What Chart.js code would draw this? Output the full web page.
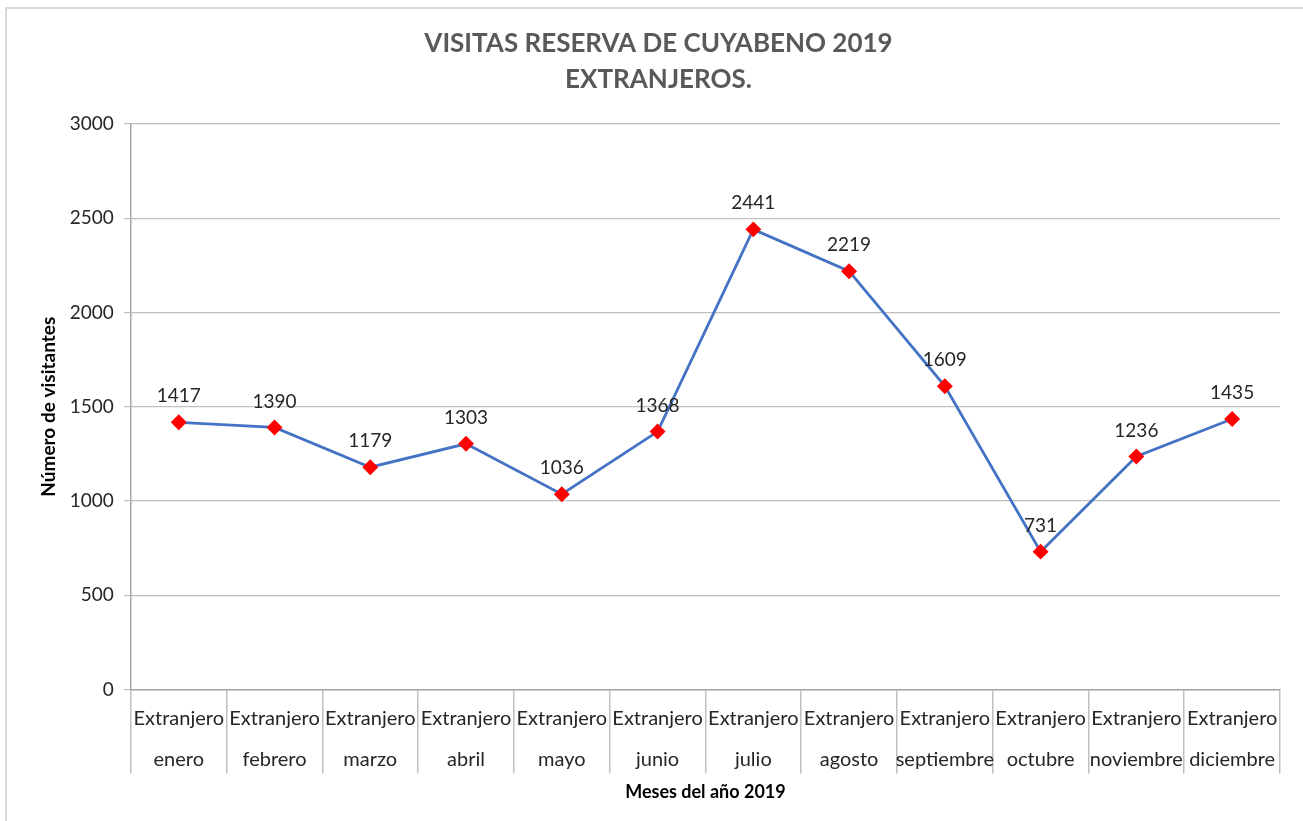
<!DOCTYPE html>
<html>
<head>
<meta charset="utf-8">
<title>Visitas Reserva de Cuyabeno 2019 - Extranjeros</title>
<script src="https://cdn.jsdelivr.net/npm/chart.js@4"></script>
<style>
    body { margin: 0; background: #fff; }
    #wrap { position: relative; width: 1303px; height: 821px; overflow: hidden; }
    #marco { position: absolute; left: 5px; top: 7px; width: 1310px; height: 830px; border: 2px solid #d9d9d9; pointer-events: none; }
</style>
</head>
<body>
<div id="wrap">
    <canvas id="grafica" width="1303" height="821"></canvas>
    <div id="marco"></div>
</div>
<script>
// Datos de la gráfica
const grupos = ['Extranjero', 'Extranjero', 'Extranjero', 'Extranjero', 'Extranjero', 'Extranjero',
    'Extranjero', 'Extranjero', 'Extranjero', 'Extranjero', 'Extranjero', 'Extranjero'];
const meses = ['enero', 'febrero', 'marzo', 'abril', 'mayo', 'junio',
    'julio', 'agosto', 'septiembre', 'octubre', 'noviembre', 'diciembre'];
const visitantes = [1417, 1390, 1179, 1303, 1036, 1368, 2441, 2219, 1609, 731, 1236, 1435];
const tituloLineas = ['VISITAS RESERVA DE CUYABENO 2019', 'EXTRANJEROS.'];

const fuente = 'Lato, "Open Sans", sans-serif';

// Etiquetas de valor encima de cada punto
const etiquetasValor = {
    id: 'etiquetasValor',
    afterDatasetsDraw(chart) {
        const ctx = chart.ctx;
        const meta = chart.getDatasetMeta(0);
        ctx.save();
        ctx.font = '19px ' + fuente;
        ctx.fillStyle = '#262626';
        ctx.textAlign = 'center';
        ctx.textBaseline = 'middle';
        meta.data.forEach((p, i) => {
            ctx.fillText(String(visitantes[i]), p.x, p.y - 26);
        });
        ctx.restore();
    }
};

// Etiquetas de categoría en dos niveles (grupo / mes), debajo del eje
const etiquetasCategoria = {
    id: 'etiquetasCategoria',
    afterDraw(chart) {
        const ctx = chart.ctx;
        const x = chart.scales.x;
        const base = x.top;
        ctx.save();
        ctx.font = '20px ' + fuente;
        ctx.fillStyle = '#262626';
        ctx.textAlign = 'center';
        ctx.textBaseline = 'middle';
        meses.forEach((m, i) => {
            const px = x.getPixelForValue(i);
            ctx.fillText(grupos[i], px, base + 29);
            ctx.fillText(m, px, base + 70);
        });
        ctx.restore();
    }
};

new Chart(document.getElementById('grafica'), {
    type: 'line',
    data: {
        labels: meses,
        datasets: [{
            label: 'Extranjeros',
            data: visitantes,
            borderColor: '#4472c4',
            borderWidth: 2.8,
            pointStyle: 'rectRot',
            pointRadius: 6,
            pointHoverRadius: 6,
            pointBackgroundColor: '#ff0000',
            pointBorderColor: '#ff0000',
            tension: 0
        }]
    },
    options: {
        responsive: false,
        animation: false,
        layout: { padding: { top: 26, right: 23, bottom: 18, left: 37 } },
        plugins: {
            legend: { display: false },
            tooltip: { enabled: false },
            title: {
                display: true,
                text: tituloLineas,
                color: '#595959',
                font: { family: fuente, size: 26, weight: 'bold', lineHeight: 1.385 },
                padding: { top: 0, bottom: 26 }
            }
        },
        scales: {
            x: {
                offset: true,
                grid: {
                    offset: true,
                    drawOnChartArea: false,
                    drawTicks: true,
                    tickLength: 84,
                    color: '#bfbfbf',
                    lineWidth: 1.5
                },
                border: { color: '#a6a6a6', width: 1.5 },
                ticks: { display: false, autoSkip: false },
                title: {
                    display: true,
                    text: 'Meses del año 2019',
                    color: '#000',
                    font: { family: fuente, size: 18, weight: 'bold' },
                    padding: { top: 8, bottom: 0 }
                }
            },
            y: {
                min: 0,
                max: 3000,
                ticks: {
                    stepSize: 500,
                    padding: 10,
                    color: '#262626',
                    font: { family: fuente, size: 19 },
                    callback: v => String(v)
                },
                grid: {
                    color: '#bfbfbf',
                    lineWidth: 1.2,
                    drawTicks: true,
                    tickLength: 7
                },
                border: { color: '#a6a6a6', width: 1.5 },
                title: {
                    display: true,
                    text: 'Número de visitantes',
                    color: '#000',
                    font: { family: fuente, size: 19, weight: 'bold' },
                    padding: { top: 0, bottom: 0 }
                }
            }
        }
    },
    plugins: [etiquetasValor, etiquetasCategoria]
});
</script>
</body>
</html>
